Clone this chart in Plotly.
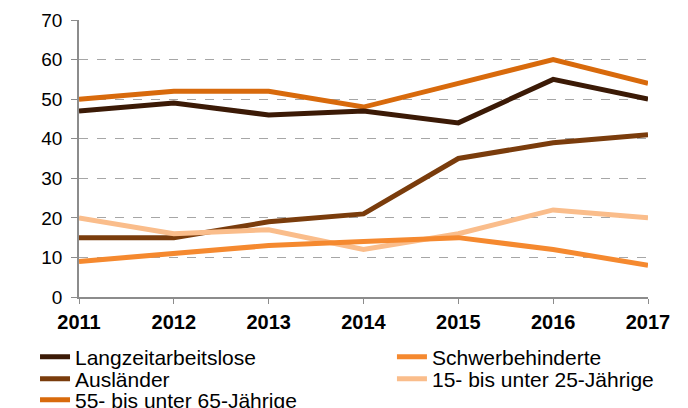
import plotly.graph_objects as go

years = [2011, 2012, 2013, 2014, 2015, 2016, 2017]
langzeit = [47, 49, 46, 47, 44, 55, 50]
auslaender = [15, 15, 19, 21, 35, 39, 41]
aeltere = [50, 52, 52, 48, 54, 60, 54]
schwerbeh = [9, 11, 13, 14, 15, 12, 8]
juengere = [20, 16, 17, 12, 16, 22, 20]

series = [
    ("55- bis unter 65-Jährige", aeltere, "#d86a0c"),
    ("Langzeitarbeitslose", langzeit, "#3b1a06"),
    ("Ausländer", auslaender, "#7a3c0c"),
    ("15- bis unter 25-Jährige", juengere, "#fabd8b"),
    ("Schwerbehinderte", schwerbeh, "#f5892f"),
]
legend_ids = ["legend5", "legend", "legend3", "legend4", "legend2"]

fig = go.Figure()
for i in range(len(series)):
    name, vals, col = series[i]
    fig.add_trace(go.Scatter(x=years, y=vals, name=name, mode="lines",
                             line=dict(color=col, width=5), legend=legend_ids[i]))

col_x = [-0.0773, 0.55]
row_y = [-0.2166, -0.296, -0.372]
slots = {"legend": (0, 0), "legend2": (1, 0), "legend3": (0, 1),
         "legend4": (1, 1), "legend5": (0, 2)}
leg_layout = {}
for key, (c, r) in slots.items():
    leg_layout[key] = dict(x=col_x[c], y=row_y[r], xanchor="left", yanchor="middle",
                           font=dict(size=21), itemwidth=30, bgcolor="rgba(0,0,0,0)",
                           borderwidth=0)

fig.update_layout(
    width=680, height=400,
    margin=dict(l=71, r=40, t=12, b=111, autoexpand=False),
    paper_bgcolor="white", plot_bgcolor="white",
    font=dict(family="Liberation Sans, Arial, sans-serif", color="black"),
    showlegend=True,
    xaxis=dict(range=[2011, 2017], tickmode="array", tickvals=years,
               ticktext=[f"<b>{y}</b>" for y in years],
               showgrid=False, showline=True, linecolor="#8c8c8c", linewidth=1.5,
               ticks="outside", ticklen=5, tickcolor="#8c8c8c",
               tickfont=dict(size=20), ticklabelstandoff=1, zeroline=False),
    yaxis=dict(range=[0, 70], tickvals=[0, 10, 20, 30, 40, 50, 60, 70],
               showgrid=True, gridcolor="#a6a6a6", griddash="dash", gridwidth=1,
               showline=True, linecolor="#8c8c8c", linewidth=1.5,
               ticks="outside", ticklen=6, tickcolor="#8c8c8c",
               tickfont=dict(size=19), ticklabelstandoff=5, zeroline=False),
    **leg_layout,
)

fig.write_html("out.html")
